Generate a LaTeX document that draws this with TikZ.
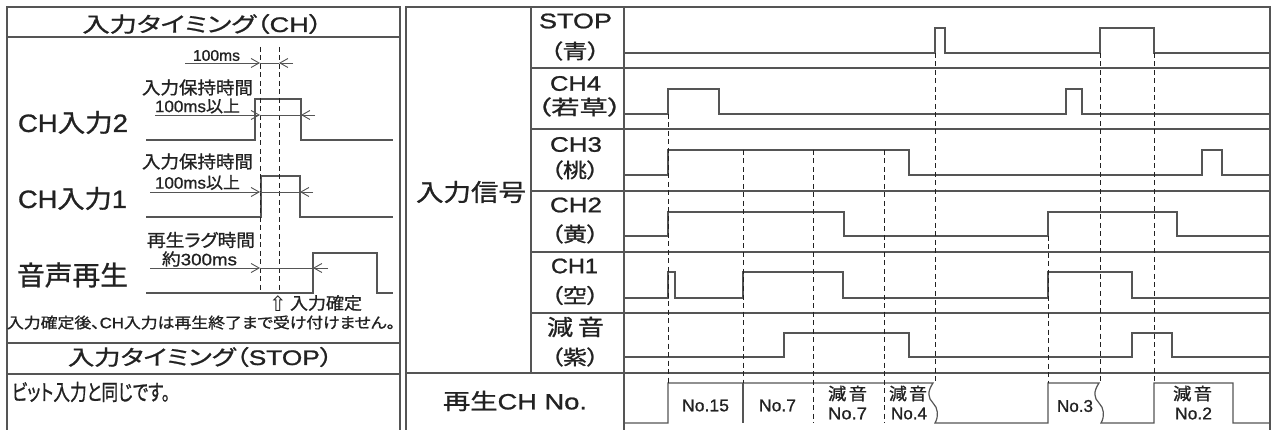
\documentclass[tikz,border=0pt]{standalone}
\usepackage{fontspec}
\setmainfont{Liberation Sans}[FakeBold=1]
\newfontfamily\J{Noto Sans CJK JP}[RawFeature=+palt,FakeBold=1]
\newfontfamily\Sym{DejaVu Sans}
\usetikzlibrary{arrows.meta}
\newcommand\fs[1]{\fontsize{#1}{#1}\selectfont}
\newcommand\fit[2]{\resizebox{#1pt}{\height}{#2}}
\definecolor{ln}{HTML}{555555}
\definecolor{tx}{HTML}{222222}
\begin{document}
\begin{tikzpicture}[x=1pt,y=-1pt,
 frame/.style={draw=ln,line width=1.3pt},
 wave/.style={draw=ln,line width=1.2pt,line join=miter},
 guide/.style={draw=tx,line width=0.9pt,dash pattern=on 5pt off 3.5pt},
 dim/.style={draw=ln,line width=0.9pt},
 tip/.style={-{Straight Barb[length=8pt,width=9pt,line width=0.9pt]}},
 txt/.style={inner sep=0pt,text=tx,font=\fs{17}},
]
\useasboundingbox (0,0) rectangle (1271,430);
\fill[white] (0,0) rectangle (1271,430);
% ---------- left panel frame
\draw[frame] (7,430) -- (7,7) -- (400,7) -- (400,430);
\draw[frame] (7,37) -- (400,37);
\draw[frame] (7,343) -- (400,343);
\draw[frame] (7,374) -- (400,374);
% ---------- right panel frame
\draw[frame] (406,430) -- (406,7) -- (1270,7) -- (1270,430);
\draw[frame] (531,7) -- (531,373);
\draw[frame] (624,7) -- (624,430);
\foreach \yy in {68,129,191,252,313} \draw[frame] (531,\yy) -- (1270,\yy);
\draw[frame] (406,373) -- (1270,373);
% ---------- left texts
\node[txt,font=\fs{21}] (t1) at (202.5,24) {\fit{240}{{\J 入力タイミング（}CH{\J ）}}};
\node[txt,font=\fs{15.5}] (d100) at (216.5,55.5) {\fit{47}{100ms}};
\node[txt,font=\fs{17.5}] (h2a) at (197.5,87.5) {\fit{111}{\J 入力保持時間}};
\node[txt,font=\fs{16.5}] (h2b) at (197.5,106) {\fit{85}{100ms{\J 以上}}};
\node[txt,font=\fs{25}] (l2) at (73,122.5) {\fit{110}{CH{\J 入力}2}};
\node[txt,font=\fs{17.5}] (h1a) at (197.5,161.5) {\fit{111}{\J 入力保持時間}};
\node[txt,font=\fs{16.5}] (h1b) at (197.5,182.5) {\fit{85}{100ms{\J 以上}}};
\node[txt,font=\fs{25}] (l1) at (72.5,198.5) {\fit{109}{CH{\J 入力}1}};
\node[txt,font=\fs{17.5}] (ga) at (201,240) {\fit{108}{\J 再生ラグ時間}};
\node[txt,font=\fs{16.5}] (gb) at (199.5,259) {\fit{75}{{\J 約}300ms}};
\node[txt,font=\fs{27}] (l0) at (72.5,275) {\fit{111}{\J 音声再生}};
\node[txt,font=\fs{21}] (up) at (278,303.5) {\Sym ⇧};
\node[txt,font=\fs{17}] (fix) at (326,303) {\fit{72}{\J 入力確定}};
\node[txt,font=\fs{15}] (note) at (201,322.5) {\fit{388}{{\J 入力確定後、}CH{\J 入力は再生終了まで受け付けません。}}};
\node[txt,font=\fs{21}] (t2) at (200.5,357) {\fit{265}{{\J 入力タイミング（}STOP{\J ）}}};
\node[txt,font=\fs{22}] (bit) at (91,392) {\fit{158}{\J ビット入力と同じです。}};
% ---------- left waveforms
\draw[wave] (146,140) -- (255,140) -- (255,99) -- (301,99) -- (301,140) -- (393,140);
\draw[wave] (146,217) -- (261,217) -- (261,176) -- (300,176) -- (300,217) -- (393,217);
\draw[wave] (146,293) -- (313,293) -- (313,253) -- (377,253) -- (377,293) -- (393,293);
\draw[guide] (260,47) -- (260,293);
\draw[guide] (279,47) -- (279,293);
% dimension arrows
\draw[dim,tip] (185,63) -- (260,63);
\draw[dim] (260,63) -- (279,63);
\draw[dim,tip] (293,63) -- (279,63);
\draw[dim,tip] (155,115) -- (260,115);
\draw[dim,tip] (315,115) -- (301,115);
\draw[dim] (260,115) -- (301,115);
\draw[dim,tip] (150,192) -- (260,192);
\draw[dim,tip] (313,192) -- (300,192);
\draw[dim] (260,192) -- (300,192);
\draw[dim,tip] (150,268) -- (260,268);
\draw[dim,tip] (328,268) -- (313,268);
\draw[dim] (260,268) -- (313,268);
% ---------- right texts
\node[txt,font=\fs{24}] (in) at (471,192) {\fit{110}{\J 入力信号}};
\node[txt,font=\fs{21}] (c0a) at (575.5,21) {\fit{73}{STOP}};
\node[txt,font=\fs{20}] (c0b) at (575,51) {\fit{50}{\J （青）}};
\node[txt,font=\fs{21}] (c4a) at (575.5,83.5) {\fit{51}{CH4}};
\node[txt,font=\fs{20}] (c4b) at (579.5,107) {\fit{85}{\J （若草）}};
\node[txt,font=\fs{21}] (c3a) at (576,144.5) {\fit{52}{CH3}};
\node[txt,font=\fs{20}] (c3b) at (575,170) {\fit{48}{\J （桃）}};
\node[txt,font=\fs{21}] (c2a) at (576,205) {\fit{52}{CH2}};
\node[txt,font=\fs{20}] (c2b) at (575,234) {\fit{48}{\J （黄）}};
\node[txt,font=\fs{21}] (c1a) at (574.5,266) {\fit{47}{CH1}};
\node[txt,font=\fs{20}] (c1b) at (575,295.5) {\fit{48}{\J （空）}};
\node[txt,font=\fs{22}] (cma) at (575.5,327) {\fit{57}{\J 減\kern4pt 音}};
\node[txt,font=\fs{20}] (cmb) at (575,357) {\fit{48}{\J （紫）}};
\node[txt,font=\fs{22}] (play) at (515,401) {\fit{144}{{\J 再生}CH No.}};
% ---------- right waveforms
\draw[wave] (624,53) -- (935,53) -- (935,28) -- (945,28) -- (945,53) -- (1100,53) -- (1100,28) -- (1154,28) -- (1154,53) -- (1270,53);
\draw[wave] (624,114) -- (668,114) -- (668,89) -- (719,89) -- (719,114) -- (1066,114) -- (1066,89) -- (1082,89) -- (1082,114) -- (1270,114);
\draw[wave] (624,175) -- (668,175) -- (668,150) -- (909,150) -- (909,175) -- (1202,175) -- (1202,150) -- (1222,150) -- (1222,175) -- (1270,175);
\draw[wave] (624,236) -- (668,236) -- (668,212) -- (844,212) -- (844,236) -- (1048,236) -- (1048,212) -- (1177,212) -- (1177,236) -- (1270,236);
\draw[wave] (624,298) -- (668,298) -- (668,272) -- (675,272) -- (675,298) -- (743,298) -- (743,272) -- (843,272) -- (843,298) -- (1048,298) -- (1048,272) -- (1132,272) -- (1132,298) -- (1270,298);
\draw[wave] (624,357) -- (784,357) -- (784,333) -- (909,333) -- (909,357) -- (1132,357) -- (1132,333) -- (1172,333) -- (1172,357) -- (1270,357);
% bottom (playback) row
\draw[wave] (624,423) -- (668,423) -- (668,383) -- (933,383)
  .. controls (927,392) and (928,398) .. (933,403)
  .. controls (938,408) and (939,416) .. (935,423) -- (1048,423) -- (1048,383) -- (1099,383)
  .. controls (1093,392) and (1094,398) .. (1099,403)
  .. controls (1104,408) and (1105,416) .. (1101,423) -- (1154,423) -- (1154,383) -- (1233,383) -- (1233,423) -- (1270,423);
\draw[wave] (743,383) -- (743,423);
% guides
\draw[guide] (668,114) -- (668,383);
\draw[guide] (743,150) -- (743,383);
\draw[guide] (813,150) -- (813,423);
\draw[guide] (884,150) -- (884,423);
\draw[guide] (935,53) -- (935,383);
\draw[guide] (1048,236) -- (1048,383);
\draw[guide] (1100,53) -- (1100,383);
\draw[guide] (1154,53) -- (1154,383);
% bottom labels
\node[txt,font=\fs{17}] (n15) at (705.5,405.5) {\fit{47}{No.15}};
\node[txt,font=\fs{17}] (n7) at (777.5,405.5) {\fit{37}{No.7}};
\node[txt,font=\fs{17}] (m7a) at (847.5,393.5) {\fit{39}{\J 減\kern2pt 音}};
\node[txt,font=\fs{17}] (m7b) at (847.5,413.5) {\fit{39}{No.7}};
\node[txt,font=\fs{17}] (m4a) at (908,393.5) {\fit{38}{\J 減\kern2pt 音}};
\node[txt,font=\fs{17}] (m4b) at (909,413.5) {\fit{36}{No.4}};
\node[txt,font=\fs{17}] (n3) at (1075,406) {\fit{36}{No.3}};
\node[txt,font=\fs{17}] (m2a) at (1192.5,393.5) {\fit{39}{\J 減\kern2pt 音}};
\node[txt,font=\fs{17}] (m2b) at (1193.5,413.5) {\fit{37}{No.2}};
\end{tikzpicture}
\end{document}
